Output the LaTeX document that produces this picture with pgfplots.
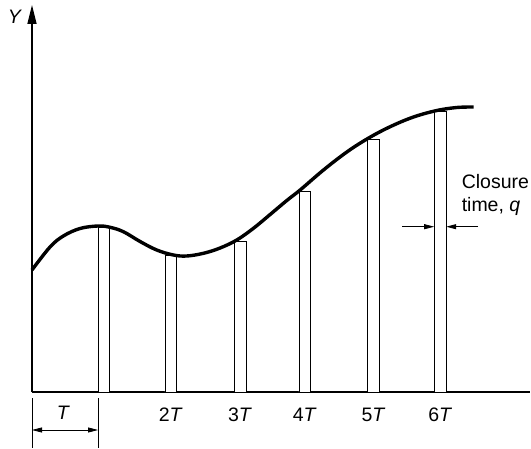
\documentclass[border=0pt]{standalone}
\usepackage{pgfplots}
\pgfplotsset{compat=1.18}
\usetikzlibrary{arrows.meta}
\usepackage{fontspec}
\setmainfont{Liberation Sans}
\begin{document}
\begin{tikzpicture}[font=\fontsize{19.5}{23}\selectfont]
\begin{axis}[
  anchor=origin, at={(0pt,0pt)},
  x=66.7pt, y=1pt,
  xmin=0, xmax=7.47, ymin=0, ymax=387,
  axis lines=left,
  axis line style={line width=1.3pt},
  x axis line style={-},
  y axis line style={-{Triangle[length=19pt,width=9pt]}},
  xtick={2.08,3.12,4.09,5.12,6.12},
  xticklabels={2\textit{T},3\textit{T},4\textit{T},5\textit{T},6\textit{T}},
  xtick style={draw=none},
  ytick=\empty,
  xticklabel style={anchor=base, yshift=-27.5pt, inner sep=0pt, font=\fontsize{19.5}{23}\selectfont},
  clip=false,
]
\addplot[ybar, bar width=0.175, bar shift=0pt, fill=white, draw=black, line width=0.8pt]
  coordinates {(1.08,165) (2.08,137) (3.12,151) (4.09,201) (5.12,253) (6.12,281)};
\addplot[smooth, tension=0.6, line width=3.4pt, black]
  coordinates {
  (0.00,122) (0.27,145) (0.47,156) (0.72,163.5) (0.99,166)
  (1.17,164.7) (1.37,160.3) (1.62,150.5) (1.87,142) (2.12,137) (2.32,136)
  (2.57,138.7) (2.82,144) (3.07,152) (3.32,163.7) (3.57,177.5) (3.82,191.5)
  (4.02,202) (4.37,222) (4.72,240) (5.04,253.7) (5.37,265.3) (5.72,275)
  (6.07,281.5) (6.37,284.5) (6.62,285)};
% dimension T
\draw[line width=0.8pt] (axis cs:0,-6) -- (axis cs:0,-56);
\draw[line width=0.8pt] (axis cs:0.99,-6) -- (axis cs:0.99,-56);
\draw[line width=0.8pt, {Triangle[length=10pt,width=5pt]}-{Triangle[length=10pt,width=5pt]}] (axis cs:0,-38) -- (axis cs:0.99,-38);
\node[anchor=base, inner sep=0pt] at (axis cs:0.47,-27.5) {\textit{T}};
% closure time
\draw[line width=0.8pt, -{Triangle[length=10pt,width=5pt]}] (axis cs:5.55,165.3) -- (axis cs:6.03,165.3);
\draw[line width=0.8pt, -{Triangle[length=10pt,width=5pt]}] (axis cs:6.69,165.3) -- (axis cs:6.21,165.3);
\node[anchor=base west, inner sep=0pt] at (axis cs:6.44,203.7) {Closure};
\node[anchor=base west, inner sep=0pt] at (axis cs:6.44,180.3) {time, \textit{q}};
\end{axis}
\node at (-17pt,375pt) {\textit{Y}};
\pgfresetboundingbox
\path (-32pt,-56pt) rectangle (499pt,392pt);
\end{tikzpicture}
\end{document}
